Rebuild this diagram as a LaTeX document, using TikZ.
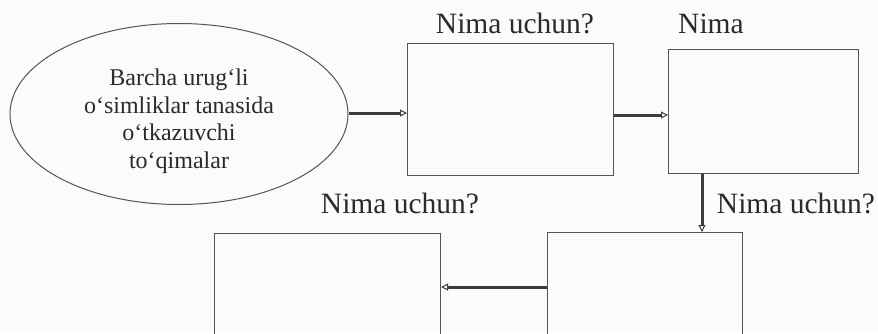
\documentclass[tikz,border=0pt]{standalone}
\usepackage{fontspec}
\setmainfont{Liberation Serif}
\usetikzlibrary{arrows.meta,shapes.geometric,calc}
\definecolor{ink}{HTML}{2A2A2A}
\definecolor{edge}{HTML}{555555}
\definecolor{arr}{HTML}{3C3C3C}
\definecolor{paper}{HTML}{FBFBFA}
\tikzset{
  qbox/.style={draw=edge, line width=1pt, rectangle, inner sep=0pt},
  lbl/.style={text=ink, font=\fontsize{29.5}{33}\selectfont, anchor=base, inner sep=0pt},
  conn/.style={draw=arr, line width=3pt, -{Triangle[open,length=7pt,width=7pt,line width=1pt]}}
}
\begin{document}
\begin{tikzpicture}[x=1pt,y=-1pt]
\fill[paper] (0,0) rectangle (878,333);
\useasboundingbox (0,0) rectangle (878,333);
\begin{scope}
\clip (0,0) rectangle (878,333);
% ellipse
\node[draw=edge, line width=1pt, ellipse, minimum width=338pt, minimum height=181pt, inner sep=0pt] (ell) at (179,114) {};
\node[text=ink, align=center, inner sep=0pt, font=\fontsize{24}{27.5}\selectfont] (etext) at (179,121)
  {Barcha urug‘li\\o‘simliklar tanasida\\o‘tkazuvchi\\to‘qimalar};
% boxes
\node[qbox, minimum width=206pt, minimum height=132pt, anchor=north west] (b1) at (407,43) {};
\node[qbox, minimum width=190pt, minimum height=124pt, anchor=north west] (b2) at (668,49) {};
\node[qbox, minimum width=195pt, minimum height=140pt, anchor=north west] (b3) at (547,232) {};
\node[qbox, minimum width=226pt, minimum height=140pt, anchor=north west] (b4) at (214,233) {};
% labels
\node[lbl] (l1) at (515,33) {Nima uchun?};
\node[lbl] (l2) at (711,33) {Nima};
\node[lbl] (l3) at (796,213) {Nima uchun?};
\node[lbl] (l4) at (400,213) {Nima uchun?};
% connectors
\coordinate (y1) at (0,113);
\coordinate (y2) at (0,115);
\coordinate (vx) at (702,0);
\coordinate (y3) at (0,287);
\draw[conn] (ell.east |- y1) -- (b1.west |- y1);
\draw[conn] (b1.east |- y2) -- (b2.west |- y2);
\draw[conn] (vx |- b2.south) -- (vx |- b3.north);
\draw[conn] (b3.west |- y3) -- (b4.east |- y3);
\end{scope}
\end{tikzpicture}
\end{document}
